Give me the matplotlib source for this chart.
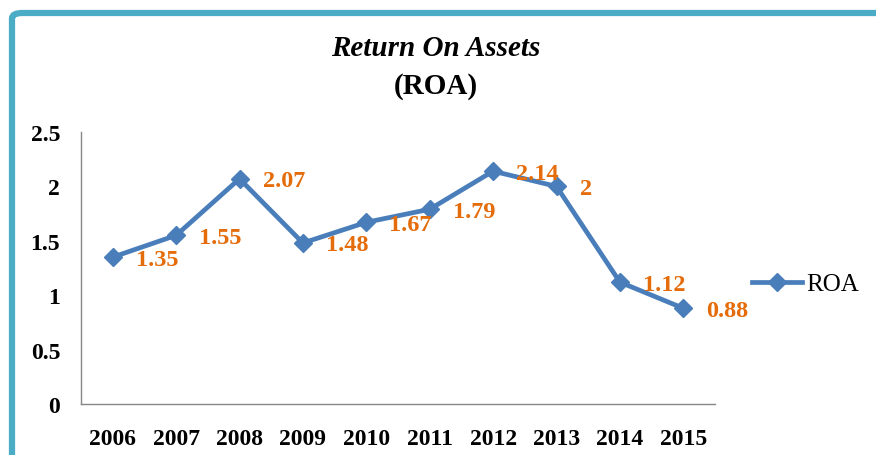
import matplotlib
matplotlib.use("Agg")
import matplotlib.pyplot as plt
from matplotlib.patches import FancyBboxPatch

years = ["2006", "2007", "2008", "2009", "2010", "2011", "2012", "2013", "2014", "2015"]
roa = [1.35, 1.55, 2.07, 1.48, 1.67, 1.79, 2.14, 2, 1.12, 0.88]
value_labels = ["1.35", "1.55", "2.07", "1.48", "1.67", "1.79", "2.14", "2", "1.12", "0.88"]
y_ticks = [0, 0.5, 1, 1.5, 2, 2.5]
y_tick_labels = ["0", "0.5", "1", "1.5", "2", "2.5"]

W, H = 876, 456
fig = plt.figure(figsize=(W / 100, H / 100), dpi=100)
fig.patch.set_facecolor("white")

serif = ["Liberation Serif", "DejaVu Serif"]

# teal frame (cropped at right and bottom)
frame = FancyBboxPatch((12 / W, -0.2), 1.2, (H - 14) / H + 0.2,
                       boxstyle="round,pad=0,rounding_size=0.012",
                       transform=fig.transFigure, fill=False,
                       edgecolor="#4BACC6", linewidth=4.5, clip_on=False)
fig.patches.append(frame)

ax = fig.add_axes([81 / W, (H - 405) / H, (715 - 81) / W, (405 - 133) / H])
x = list(range(len(years)))
line_color = "#4A7EBB"
ax.plot(x, roa, color=line_color, linewidth=3.4, marker="D", markersize=9,
        label="ROA", zorder=3)

for xi, yi, lab in zip(x, roa, value_labels):
    ax.annotate(lab, (xi, yi), xytext=(23, -2), textcoords="offset pixels",
                ha="left", va="center", color="#E46C0A", fontsize=17.5,
                fontweight="bold", family=serif, zorder=4)

ax.set_xlim(-0.5, len(years) - 0.5)
ax.set_ylim(0, 2.5)
ax.set_xticks(x)
ax.set_xticklabels(years, fontsize=17, fontweight="bold", family=serif)
ax.set_yticks(y_ticks)
ax.set_yticklabels(y_tick_labels, fontsize=17, fontweight="bold", family=serif)
ax.tick_params(axis="both", length=0)
ax.tick_params(axis="y", pad=15)
ax.tick_params(axis="x", pad=17)
for s in ["top", "right"]:
    ax.spines[s].set_visible(False)
for s in ["left", "bottom"]:
    ax.spines[s].set_color("#868686")
    ax.spines[s].set_linewidth(1.0)

fig.text(436 / W, 1 - 49 / H, "Return On Assets", ha="center", va="center",
         fontsize=21, fontweight="bold", fontstyle="italic", family=serif)
fig.text(436 / W, 1 - 87 / H, "(ROA)", ha="center", va="center",
         fontsize=21, fontweight="bold", family=serif)

leg = ax.legend(loc="center left", bbox_to_anchor=(752 / W, 1 - 285 / H),
                bbox_transform=fig.transFigure, frameon=False,
                prop={"family": serif, "size": 18}, handlelength=2.0,
                handletextpad=0.17, borderpad=0, borderaxespad=0,
                markerscale=1.0)

fig.savefig("out.png", dpi=100, facecolor="white")
